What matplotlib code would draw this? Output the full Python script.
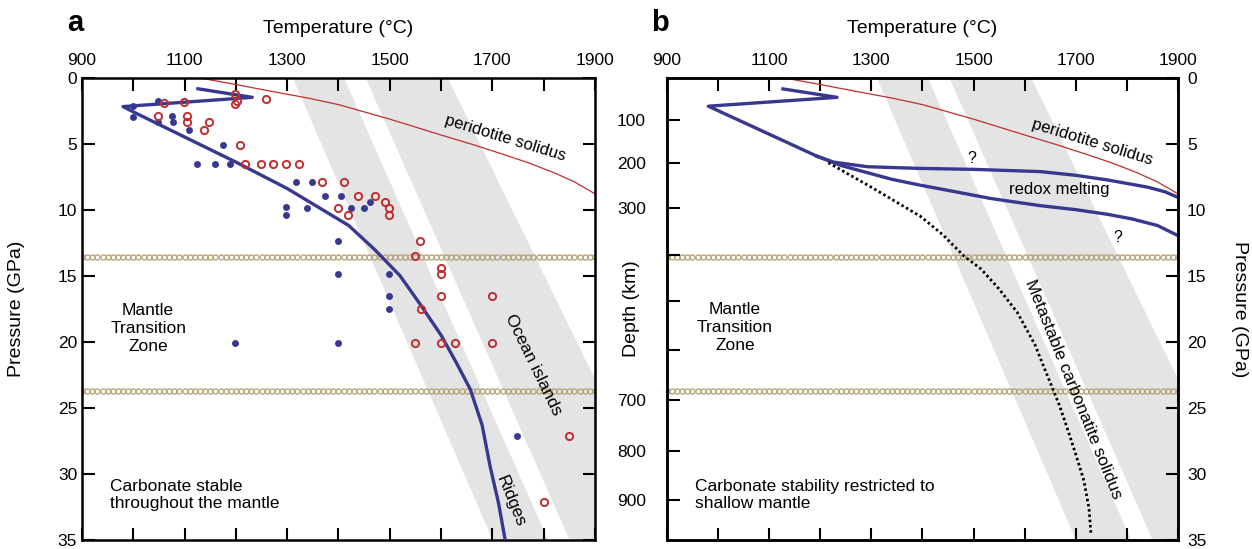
import matplotlib
matplotlib.use('Agg')
import matplotlib.pyplot as plt
import numpy as np

plt.rcParams['font.family'] = ['Liberation Sans', 'DejaVu Sans']

# Axis ticks
temp_ticks = np.arange(900, 1901, 100)
pres_ticks = np.arange(0, 36, 5)

# Depth scale of panel b (km) and the pressure (GPa) where each tick sits
depth_labels = ['100', '200', '300', '', '', '', '700', '800', '900']
depth_pres = [3.2, 6.45, 9.85, 13.4, 16.9, 20.6, 24.4, 28.3, 32.0]

# Adiabat bands: edge temperatures at the top and the bottom of the plot
band_pres = [0, 35]
ridge_left = [1310, 1700]
ridge_right = [1410, 1808]
island_left = [1452, 1850]
island_right = [1612, 2053]

# Transition zone boundaries (GPa)
tz_pres = [13.6, 23.7]

# Peridotite solidus
sol_T = [1125, 1200, 1270, 1340, 1400, 1450, 1500, 1550, 1600, 1660, 1720,
         1770, 1820, 1860, 1900]
sol_P = [0, 0.53, 1.05, 1.55, 2.05, 2.6, 3.15, 3.75, 4.35, 5.05, 5.8,
         6.45, 7.2, 7.9, 8.8]

# Carbonated peridotite solidus, panel a
carb_T = [1126, 1232, 980, 1000, 1100, 1200, 1300, 1360, 1420, 1470, 1520,
          1560, 1600, 1630, 1657, 1680, 1696, 1712, 1725]
carb_P = [0.85, 1.5, 2.2, 2.6, 4.5, 6.4, 8.4, 9.8, 11.2, 13.0, 15.0,
          17.2, 19.5, 21.6, 23.6, 26.3, 29.5, 32.2, 35]

# Panel b: shallow part, then the two redox melting branches
shallow_T = [1127, 1233, 981, 1194]
shallow_P = [0.86, 1.5, 2.17, 5.96]
upper_T = [1194, 1226, 1292, 1396, 1500, 1631, 1700, 1762, 1841, 1875, 1902]
upper_P = [5.96, 6.4, 6.75, 6.88, 6.95, 7.12, 7.4, 7.75, 8.3, 8.65, 9.1]
lower_T = [1194, 1240, 1292, 1340, 1396, 1435, 1533, 1631, 1700, 1762,
           1810, 1860, 1902]
lower_P = [5.96, 6.65, 7.2, 7.7, 8.15, 8.43, 9.15, 9.7, 10.0, 10.35,
           10.7, 11.2, 12.0]

# Metastable carbonatite solidus (dotted)
meta_T = [1216, 1300, 1396, 1440, 1481, 1515, 1550, 1586, 1620, 1645, 1668,
          1684, 1700, 1716, 1726, 1730]
meta_P = [6.45, 8.3, 10.5, 11.9, 13.5, 14.5, 16.0, 17.8, 20.2, 22.6, 24.8,
          26.6, 28.5, 30.5, 32.6, 34.6]

# Experimental points (filled blue / open red)
blue_T = [1000, 1000, 1049, 1049, 1075, 1078, 1109, 1175, 1124, 1159, 1189,
          1298, 1298, 1338, 1318, 1348, 1374, 1405, 1462, 1424, 1450, 1400,
          1400, 1499, 1499, 1499, 1400, 1198, 1749]
blue_P = [2.17, 2.98, 1.79, 3.36, 2.93, 3.36, 3.99, 5.13, 6.53, 6.53, 6.53,
          9.82, 10.4, 9.87, 7.92, 7.92, 8.94, 8.94, 9.44, 9.87, 9.87, 12.4,
          14.9, 14.9, 16.5, 17.5, 20.1, 20.1, 27.1]
red_T = [1198, 1203, 1198, 1258, 1059, 1099, 1049, 1104, 1104, 1148, 1138,
         1208, 1218, 1249, 1273, 1298, 1323, 1368, 1410, 1439, 1472, 1491,
         1400, 1499, 1419, 1499, 1559, 1550, 1600, 1600, 1600, 1699, 1560,
         1550, 1600, 1628, 1699, 1849, 1800]
red_P = [1.28, 1.79, 2.04, 1.66, 1.96, 1.84, 2.93, 2.93, 3.36, 3.36, 3.99,
         5.13, 6.53, 6.53, 6.53, 6.53, 6.53, 7.92, 7.92, 8.94, 8.94, 9.44,
         9.87, 9.87, 10.4, 10.4, 12.4, 13.5, 14.4, 14.9, 16.5, 16.5, 17.5,
         20.1, 20.1, 20.1, 20.1, 27.1, 32.1]

blue = '#38388f'
red = '#bf2f2f'
grey = '#e4e4e4'
bead = '#b5a67a'

fig = plt.figure(figsize=(12.52, 5.49), dpi=100)
ax_a = fig.add_axes([0.0655, 0.0164, 0.4097, 0.8424])
ax_b = fig.add_axes([0.5327, 0.0164, 0.4081, 0.8424])


def base(ax):
    # shared background: bands, transition zone, solidus
    ax.fill_betweenx(band_pres, ridge_left, ridge_right, color=grey, lw=0, zorder=0)
    ax.fill_betweenx(band_pres, island_left, island_right, color=grey, lw=0, zorder=0)
    beads = np.arange(900, 1901, 10)
    for p in tz_pres:
        ax.plot(beads, np.full(len(beads), p), 'o', ms=3.7, mfc='none',
                mec=bead, mew=1.0, zorder=1)
    ax.plot(sol_T, sol_P, color=red, lw=0.9, zorder=2)
    ax.set_xlim(900, 1900)
    ax.set_ylim(35, 0)
    ax.set_xticks(temp_ticks)
    ax.set_xticklabels([str(t) if t % 200 == 100 else '' for t in temp_ticks])
    ax.tick_params(axis='x', top=True, bottom=True, labeltop=True,
                   labelbottom=False, direction='in', length=9, width=1.5,
                   pad=7, labelsize=12.5)
    for s in ax.spines.values():
        s.set_linewidth(1.8)
    ax.text(0.5, 1.107, 'Temperature (°C)', transform=ax.transAxes,
            ha='center', va='center', fontsize=14)


# Panel a
base(ax_a)
ax_a.plot(carb_T, carb_P, color=blue, lw=2.4, zorder=3)
ax_a.plot(blue_T, blue_P, 'o', color=blue, ms=5.0, mec='none', zorder=4)
ax_a.plot(red_T, red_P, 'o', ms=5.2, mfc='none', mec=red, mew=1.4, zorder=4)
ax_a.set_yticks(pres_ticks)
ax_a.tick_params(axis='y', left=True, right=True, labelleft=True,
                 labelright=False, direction='in', length=9, width=1.5,
                 pad=3.5, labelsize=12.5)
ax_a.text(-0.127, 0.5, 'Pressure (GPa)', transform=ax_a.transAxes,
          rotation=90, ha='center', va='center', fontsize=14)
ax_a.text(1725, 4.6, 'peridotite solidus', rotation=-17, ha='center',
          va='center', fontsize=12)
ax_a.text(1780, 21.7, 'Ocean islands', rotation=-64, ha='center',
          va='center', fontsize=12.5)
ax_a.text(1735, 32.1, 'Ridges', rotation=-68, ha='center', va='center',
          fontsize=12.5)
ax_a.text(1029, 19.0, 'Mantle\nTransition\nZone', ha='center', va='center',
          multialignment='center', fontsize=12.5, linespacing=1.25)
ax_a.text(955, 31.6, 'Carbonate stable\nthroughout the mantle', ha='left',
          va='center', fontsize=12.5, linespacing=1.2)

# Panel b
base(ax_b)
ax_b.plot(shallow_T, shallow_P, color=blue, lw=2.4, zorder=3)
ax_b.plot(upper_T, upper_P, color=blue, lw=2.4, zorder=3)
ax_b.plot(lower_T, lower_P, color=blue, lw=2.4, zorder=3)
ax_b.plot(meta_T, meta_P, color='black', lw=2.0, ls=(0, (0.9, 1.0)), zorder=3)
ax_b.set_yticks(depth_pres)
ax_b.set_yticklabels(depth_labels)
ax_b.tick_params(axis='y', left=True, right=False, labelleft=True,
                 labelright=False, direction='in', length=9, width=1.5,
                 pad=15, labelsize=12.5)
ax_b.text(-0.0685, 0.5, 'Depth (km)', transform=ax_b.transAxes,
          rotation=90, ha='center', va='center', fontsize=14)

ax_b2 = ax_b.twinx()
ax_b2.set_ylim(35, 0)
ax_b2.set_yticks(pres_ticks)
ax_b2.tick_params(axis='y', left=False, right=True, labelleft=False,
                  labelright=True, direction='in', length=9, width=1.5,
                  pad=6.5, labelsize=12.5)
for s in ax_b2.spines.values():
    s.set_linewidth(1.8)
ax_b.text(1.121, 0.5, 'Pressure (GPa)', transform=ax_b.transAxes,
          rotation=270, ha='center', va='center', fontsize=14)

ax_b.text(1733, 4.9, 'peridotite solidus', rotation=-17, ha='center',
          va='center', fontsize=12)
ax_b.text(1497, 6.1, '?', ha='center', va='center', fontsize=11.5)
ax_b.text(1782, 12.1, '?', ha='center', va='center', fontsize=11.5)
ax_b.text(1667, 8.5, 'redox melting', ha='center', va='center', fontsize=12)
ax_b.text(1695, 23.6, 'Metastable carbonatite solidus', rotation=-68,
          ha='center', va='center', fontsize=12.5)
ax_b.text(1033, 18.9, 'Mantle\nTransition\nZone', ha='center', va='center',
          multialignment='center', fontsize=12.5, linespacing=1.25)
ax_b.text(955, 31.6, 'Carbonate stability restricted to\nshallow mantle',
          ha='left', va='center', fontsize=12.5, linespacing=1.2)

fig.text(0.06, 0.958, 'a', fontsize=21, fontweight='bold', ha='center',
         va='center')
fig.text(0.527, 0.958, 'b', fontsize=21, fontweight='bold', ha='center',
         va='center')

fig.savefig('out.png', dpi=100)
